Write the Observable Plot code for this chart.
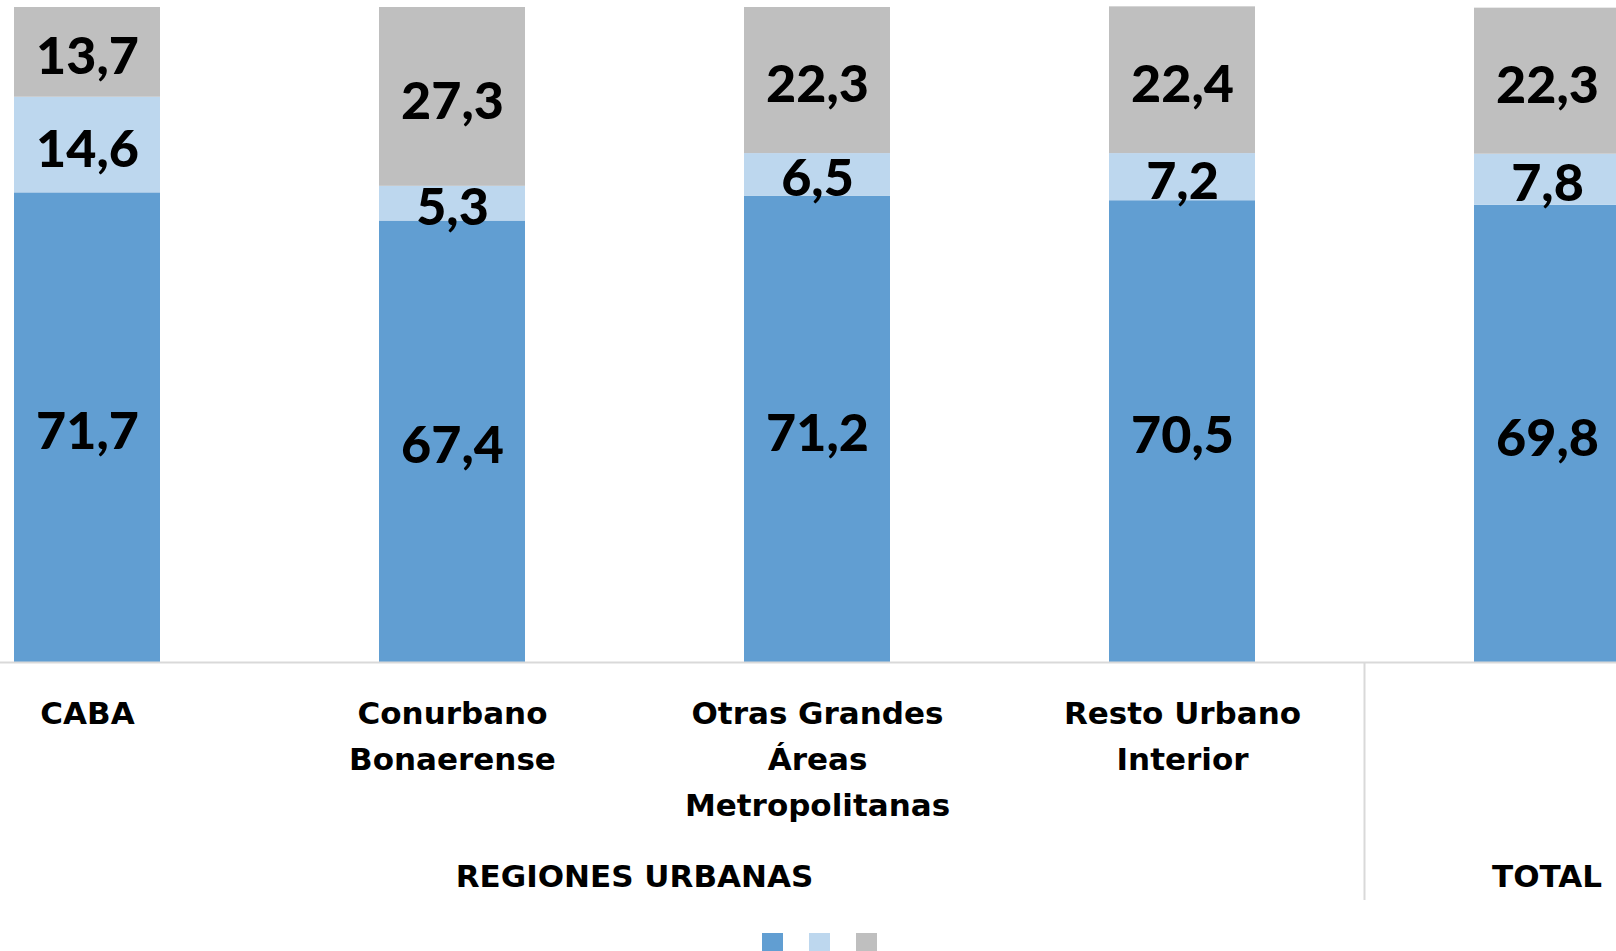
<!DOCTYPE html>
<html>
<head>
<meta charset="utf-8">
<script src="https://cdn.jsdelivr.net/npm/d3@7"></script>
<script src="https://cdn.jsdelivr.net/npm/@observablehq/plot@0.6"></script>
<style>
  html, body { margin: 0; padding: 0; background: #fff; overflow: hidden; }
  #legend { display: flex; gap: 26px; margin-left: 762px; padding-top: 5px; }
  #legend span { display: block; width: 21px; height: 21px; }
</style>
</head>
<body>
<div id="chart"></div>
<div id="legend"></div>
<script>
const regions = ["CABA", "Conurbano Bonaerense", "Otras Grandes Áreas Metropolitanas", "Resto Urbano Interior", "TOTAL"];
const regionLabels = ["CABA", "Conurbano\nBonaerense", "Otras Grandes\nÁreas\nMetropolitanas", "Resto Urbano\nInterior", ""];
const series = ["Serie 1", "Serie 2", "Serie 3"];
const colors = ["#619ed2", "#bdd7ee", "#bfbfbf"];
const serie1 = [71.7, 67.4, 71.2, 70.5, 69.8];
const serie2 = [14.6, 5.3, 6.5, 7.2, 7.8];
const serie3 = [13.7, 27.3, 22.3, 22.4, 22.3];
const groups = [
  {label: "REGIONES URBANAS", members: ["CABA", "Conurbano Bonaerense", "Otras Grandes Áreas Metropolitanas", "Resto Urbano Interior"]},
  {label: "TOTAL", members: ["TOTAL"]}
];

const valuesBySeries = [serie1, serie2, serie3];
const data = [];
series.forEach((s, si) => regions.forEach((r, ri) => data.push({region: r, series: s, value: valuesBySeries[si][ri]})));

const fmt = v => v.toFixed(1).replace(".", ",");
const labelOf = Object.fromEntries(regions.map((r, i) => [r, regionLabels[i]]));

const W = 1616, H = 928;
const chart = Plot.plot({
  width: W,
  height: H,
  marginTop: 7,
  marginBottom: 266,
  marginLeft: 0,
  marginRight: 0,
  x: {domain: regions, range: [-96.75, 1730.75], paddingInner: 0.6, paddingOuter: 0.3, label: null},
  y: {domain: [0, 100], axis: null},
  color: {domain: series, range: colors},
  marks: [
    Plot.barY(data, {x: "region", y: "value", fill: "series", z: "series", order: series, inset: 0}),
    Plot.ruleY([0], {stroke: "#d9d9d9", strokeWidth: 2}),
    Plot.text(data, Plot.stackY({x: "region", y: "value", z: "series", order: series, text: d => fmt(d.value),
      fontSize: 52, fontWeight: 900, fontFamily: "Lato", fill: "#000", dy: 5})),
    Plot.axisX({tickSize: 0, tickPadding: 29, tickFormat: d => labelOf[d], fontSize: 31, fontWeight: "bold",
      fontFamily: "DejaVu Sans", fill: "#000", lineHeight: 1.48, label: null})
  ],
  style: {fontFamily: "DejaVu Sans", color: "#000", background: "#fff"}
});
document.getElementById("chart").append(chart);

// group labels and separator, positioned with Plot's own x scale
const xs = chart.scale("x");
const svg = d3.select(chart);
const center = r => xs.apply(r) + xs.bandwidth / 2;
const gap = (xs.step - xs.bandwidth) / 2;
groups.forEach(g => {
  const cx = d3.mean(g.members, center);
  svg.append("text")
    .attr("x", cx).attr("y", 887)
    .attr("text-anchor", "middle")
    .attr("font-family", "DejaVu Sans").attr("font-weight", "bold").attr("font-size", 31)
    .attr("fill", "#000")
    .text(g.label);
});
const sepX = xs.apply("TOTAL") - gap;
svg.append("line")
  .attr("x1", sepX).attr("x2", sepX).attr("y1", 663).attr("y2", 900)
  .attr("stroke", "#d9d9d9").attr("stroke-width", 2);

const legend = d3.select("#legend");
series.forEach((s, i) => legend.append("span").style("background", colors[i]).attr("title", s));
</script>
</body>
</html>
